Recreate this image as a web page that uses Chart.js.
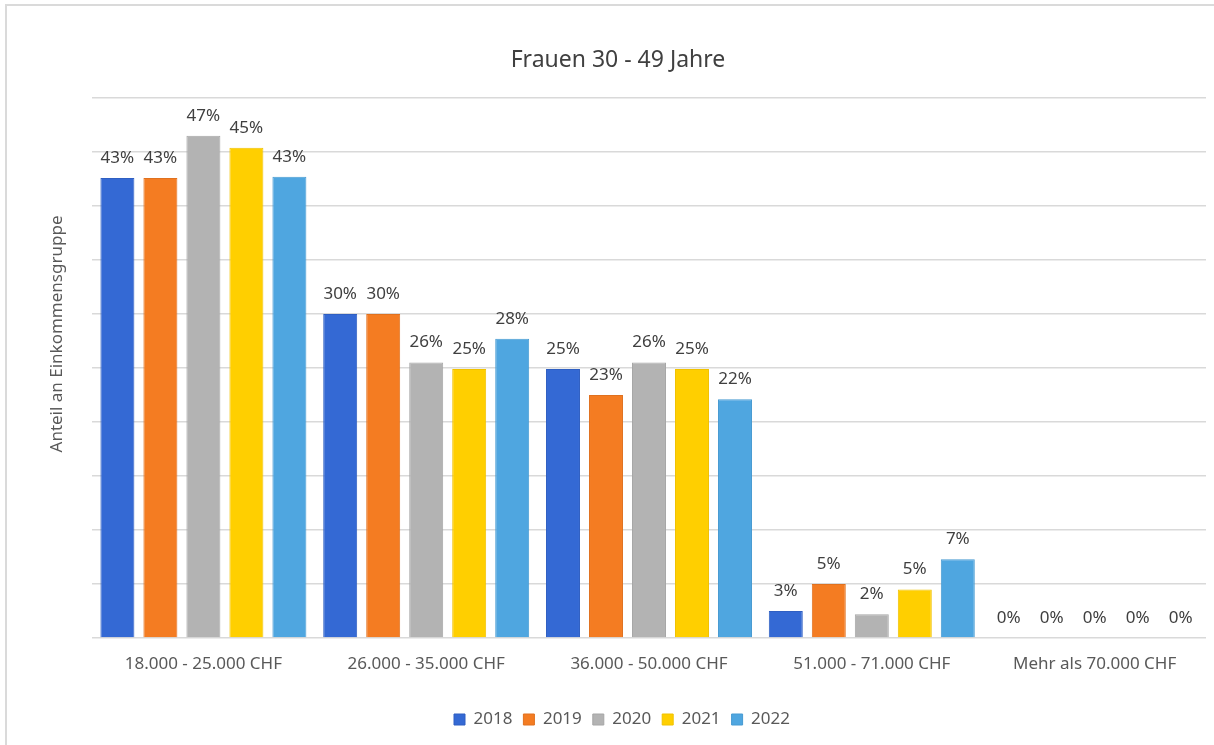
<!DOCTYPE html>
<html>
<head>
<meta charset="utf-8">
<script src="https://cdn.jsdelivr.net/npm/chart.js@4/dist/chart.umd.min.js"></script>
<style>
    body { margin: 0; background: #fff; }
    #wrap { position: relative; width: 1214px; height: 745px; }
    #frame {
        position: absolute; left: 5px; top: 4px; right: 0; bottom: 0;
        border-left: 2px solid #dadada; border-top: 2px solid #dadada;
        pointer-events: none;
    }
</style>
</head>
<body>
<div id="wrap">
    <canvas id="chart" width="1214" height="745"></canvas>
    <div id="frame"></div>
</div>
<script>
const categories = ['18.000 - 25.000 CHF', '26.000 - 35.000 CHF', '36.000 - 50.000 CHF', '51.000 - 71.000 CHF', 'Mehr als 70.000 CHF'];
const years = ['2018', '2019', '2020', '2021', '2022'];

// Anteil in Prozent
const values2018 = [42.6, 30.0, 24.9, 2.5, 0];
const values2019 = [42.6, 30.0, 22.5, 5.0, 0];
const values2020 = [46.5, 25.5, 25.5, 2.2, 0];
const values2021 = [45.4, 24.9, 24.9, 4.5, 0];
const values2022 = [42.7, 27.7, 22.1, 7.3, 0];

const yearColors = ['#3469d4', '#f47c22', '#b3b3b3', '#ffcf00', '#4fa6e0'];
const yearBorders = ['#2f5fc2', '#e0711f', '#a6a6a6', '#f0c200', '#479ad2'];

const FONT = '"Noto Sans", "Open Sans", sans-serif';
Chart.defaults.font.family = FONT;

// Prozentwerte über den Balken
const valueLabels = {
    id: 'valueLabels',
    afterDatasetsDraw(chart) {
        const ctx = chart.ctx;
        ctx.save();
        ctx.font = '17px ' + FONT;
        ctx.fillStyle = '#404040';
        ctx.textAlign = 'center';
        ctx.textBaseline = 'middle';
        chart.data.datasets.forEach((ds, i) => {
            chart.getDatasetMeta(i).data.forEach((bar, j) => {
                ctx.fillText(Math.round(ds.data[j]) + '%', bar.x, bar.y - 20);
            });
        });
        ctx.restore();
    }
};

// Titel und Achsentitel sitzen im Original etwas rechts bzw. oberhalb der Mitte
const extraTexts = {
    id: 'extraTexts',
    afterLayout(chart) {
        // Legende wie im Original leicht nach rechts
        chart.legend.left += 19;
        chart.legend.right += 19;
    },
    afterDraw(chart) {
        const ctx = chart.ctx;
        ctx.save();
        ctx.textAlign = 'center';
        ctx.textBaseline = 'middle';

        ctx.font = '23px ' + FONT;
        ctx.fillStyle = '#404040';
        ctx.fillText('Frauen 30 - 49 Jahre', 618, 60);

        ctx.translate(57, 334);
        ctx.rotate(-Math.PI / 2);
        ctx.font = '17px ' + FONT;
        ctx.fillStyle = '#595959';
        ctx.fillText('Anteil an Einkommensgruppe', 0, 0);
        ctx.restore();
    }
};

const allValues = [values2018, values2019, values2020, values2021, values2022];

new Chart(document.getElementById('chart').getContext('2d'), {
    type: 'bar',
    data: {
        labels: categories,
        datasets: years.map((year, i) => ({
            label: year,
            data: allValues[i],
            backgroundColor: yearColors[i],
            borderColor: yearBorders[i],
            borderWidth: 1,
            categoryPercentage: 0.965,
            barPercentage: 0.79
        }))
    },
    options: {
        responsive: false,
        animation: false,
        layout: { padding: { left: 0, right: 8, top: 98, bottom: 7 } },
        scales: {
            x: {
                grid: { display: false },
                border: { display: false },
                ticks: { color: '#595959', font: { size: 17 }, padding: 7.5, maxRotation: 0 },
                afterFit(scale) { scale.height = 62; }
            },
            y: {
                min: 0,
                max: 50,
                ticks: { display: false, stepSize: 5 },
                grid: { color: '#d9d9d9', lineWidth: 1.5, drawTicks: false },
                border: { display: false },
                afterFit(scale) { scale.width = 92; }
            }
        },
        plugins: {
            title: { display: false },
            legend: {
                position: 'bottom',
                labels: {
                    color: '#595959',
                    font: { size: 17 },
                    boxWidth: 11,
                    boxHeight: 11,
                    padding: 11
                }
            },
            tooltip: { enabled: false }
        }
    },
    plugins: [valueLabels, extraTexts]
});
</script>
</body>
</html>
